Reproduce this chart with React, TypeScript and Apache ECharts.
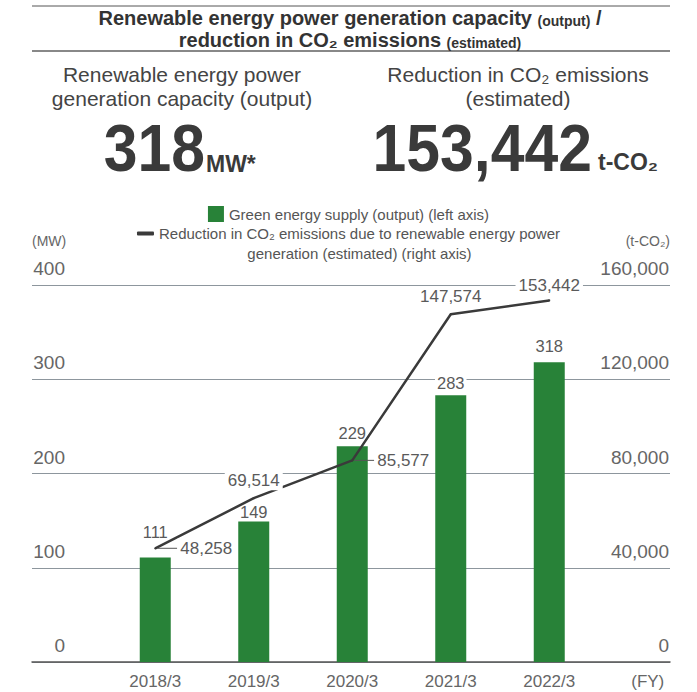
import React, { useEffect, useRef } from 'react';
import * as echarts from 'echarts';

const categories = ['2018/3', '2019/3', '2020/3', '2021/3', '2022/3'];
const axisEndLabel = '(FY)';
const capacityMW = [111, 149, 229, 283, 318];
const co2Reduction = [48258, 69514, 85577, 147574, 153442];
const leftAxisTicks = [0, 100, 200, 300, 400];
const rightAxisTicks = [0, 40000, 80000, 120000, 160000];

const barName = 'Green energy supply (output) (left axis)';
const lineName = 'Reduction in CO₂ emissions due to renewable energy power generation (estimated) (right axis)';
const lineNameLines = ['Reduction in CO₂ emissions due to renewable energy power', 'generation (estimated) (right axis)'];

// label placement (not data)
const lineLabelPos = ['right', 'top', 'right', 'top', 'top'];
const lineLabelDist = [1, 7, 1, 7.5, 4.5];
const barLabelDist = [17, 1.5, 5, 4, 7.5];

export default function App() {
  const ref = useRef<HTMLDivElement>(null);
  useEffect(() => {
    document.body.style.margin = '0';
    const chart = echarts.init(ref.current as HTMLDivElement, null, { renderer: 'svg' });
    const font = '"Liberation Sans", Arial, Helvetica, sans-serif';
    const fmt = (v: number) => v.toLocaleString('en-US');
    const green = '#288238';
    const dark = '#3a3a3a';
    const labelGray = '#5a5a5a';
    const axisGray = '#666666';
    const n = capacityMW.length;

    const lineData = co2Reduction.map((v, i) => ({
      value: v,
      label: {
        position: lineLabelPos[i],
        distance: lineLabelDist[i],
        formatter: lineLabelPos[i] === 'right' ? '{l|}{v|' + fmt(v) + '}' : '{v|' + fmt(v) + '}',
      },
    }));
    const barData = capacityMW.map((v, i) => ({ value: v, label: { distance: barLabelDist[i] } }));

    const lMin = leftAxisTicks[0];
    const lMax = leftAxisTicks[leftAxisTicks.length - 1];
    const lInt = leftAxisTicks[1] - leftAxisTicks[0];
    const rMin = rightAxisTicks[0];
    const rMax = rightAxisTicks[rightAxisTicks.length - 1];
    const rInt = rightAxisTicks[1] - rightAxisTicks[0];

    const option: any = {
      animation: false,
      textStyle: { fontFamily: font },
      legend: [
        {
          data: [{ name: barName, icon: 'rect' }],
          top: 206,
          left: 'center',
          padding: 0,
          itemWidth: 16,
          itemHeight: 16,
          itemGap: 0,
          selectedMode: false,
          textStyle: { fontSize: 15, color: '#555', fontFamily: font },
        },
        {
          data: [{ name: lineName, icon: 'roundRect' }],
          top: 206,
          left: 'center',
          padding: 0,
          itemWidth: 17,
          itemHeight: 4,
          selectedMode: false,
          formatter: () => '{c| }\n' + lineNameLines.map((t) => '{c|' + t + '}').join('\n'),
          textStyle: {
            fontSize: 15,
            color: '#555',
            fontFamily: font,
            rich: { c: { align: 'center', fontSize: 15, lineHeight: 20, color: '#555', fontFamily: font } },
          },
        },
      ],
      grid: [
        { left: 106, top: 285, width: 592.5, bottom: 30 },
        { left: 32, right: 27, top: 285, bottom: 30 },
      ],
      xAxis: [
        {
          gridIndex: 0,
          type: 'category',
          data: [...categories, axisEndLabel],
          axisLine: { show: false },
          axisTick: { show: false },
          splitLine: { show: false },
          axisLabel: { fontSize: 17, color: axisGray, margin: 11, interval: 0, fontFamily: font },
        },
        {
          gridIndex: 1,
          type: 'value',
          min: 0,
          max: 1,
          axisLine: { show: true, onZero: false, lineStyle: { color: '#555', width: 1.5 } },
          axisTick: { show: false },
          axisLabel: { show: false },
          splitLine: { show: false },
        },
      ],
      yAxis: [
        { gridIndex: 0, type: 'value', min: lMin, max: lMax, interval: lInt, show: false },
        { gridIndex: 0, type: 'value', min: rMin, max: rMax, interval: rInt, show: false },
        {
          gridIndex: 1,
          type: 'value',
          position: 'left',
          min: lMin,
          max: lMax,
          interval: lInt,
          name: '(MW)',
          nameLocation: 'end',
          nameGap: 44,
          nameTextStyle: { align: 'left', verticalAlign: 'middle', fontSize: 14, color: axisGray, fontFamily: font },
          axisLine: { show: false },
          axisTick: { show: false },
          axisLabel: {
            inside: true,
            margin: 33,
            align: 'right',
            verticalAlign: 'bottom',
            padding: [0, 0, 7, 0],
            fontSize: 19,
            color: axisGray,
            showMinLabel: true,
            showMaxLabel: true,
            fontFamily: font,
          },
          splitLine: { show: true, lineStyle: { color: '#8d969d', width: 1 } },
        },
        {
          gridIndex: 1,
          type: 'value',
          position: 'right',
          min: rMin,
          max: rMax,
          interval: rInt,
          name: '(t-CO₂)',
          nameLocation: 'end',
          nameGap: 44,
          nameTextStyle: { align: 'right', verticalAlign: 'middle', fontSize: 14, color: axisGray, fontFamily: font },
          axisLine: { show: false },
          axisTick: { show: false },
          axisLabel: {
            inside: true,
            margin: 1,
            align: 'right',
            verticalAlign: 'bottom',
            padding: [0, 0, 7, 0],
            fontSize: 19,
            color: axisGray,
            showMinLabel: true,
            showMaxLabel: true,
            formatter: (v: number) => fmt(v),
            fontFamily: font,
          },
          splitLine: { show: false },
        },
      ],
      series: [
        {
          type: 'bar',
          name: barName,
          xAxisIndex: 0,
          yAxisIndex: 0,
          data: barData,
          barWidth: 31,
          itemStyle: { color: green },
          label: {
            show: true,
            position: 'top',
            fontSize: 16.5,
            color: labelGray,
            backgroundColor: '#fff',
            padding: [0, 2],
            fontFamily: font,
          },
        },
        {
          type: 'line',
          name: lineName,
          xAxisIndex: 0,
          yAxisIndex: 1,
          data: lineData,
          symbol: 'circle',
          symbolSize: 2,
          showSymbol: true,
          itemStyle: { color: dark },
          lineStyle: { color: dark, width: 2.5 },
          z: 5,
          label: {
            show: true,
            fontSize: 17,
            color: labelGray,
            fontFamily: font,
            rich: {
              l: { width: 20, height: 1, backgroundColor: '#555' },
              v: { fontSize: 17, color: labelGray, backgroundColor: '#fff', padding: [1, 3], fontFamily: font },
            },
          },
        },
      ],
      graphic: [
        { type: 'line', shape: { x1: 32, y1: 6, x2: 670, y2: 6 }, style: { stroke: '#555', lineWidth: 1 } },
        { type: 'line', shape: { x1: 32, y1: 51, x2: 670, y2: 51 }, style: { stroke: '#888', lineWidth: 2 } },
        {
          type: 'text',
          x: 350,
          y: 6,
          style: {
            text: '{b|Renewable energy power generation capacity }{s|(output)}{b| /}\n{b|reduction in CO₂ emissions }{s|(estimated)}',
            align: 'center',
            verticalAlign: 'top',
            rich: {
              b: { fontSize: 20, fontWeight: 'bold', fill: '#333', lineHeight: 22, fontFamily: font, verticalAlign: 'bottom' },
              s: { fontSize: 14, fontWeight: 'bold', fill: '#333', lineHeight: 22, fontFamily: font, verticalAlign: 'bottom' },
            },
          },
        },
        {
          type: 'text',
          x: 182,
          y: 62,
          style: {
            text: 'Renewable energy power\ngeneration capacity (output)',
            align: 'center',
            verticalAlign: 'top',
            fontSize: 21,
            lineHeight: 24,
            fill: '#444',
            fontFamily: font,
          },
        },
        {
          type: 'text',
          x: 518,
          y: 62,
          style: {
            text: 'Reduction in CO₂ emissions\n(estimated)',
            align: 'center',
            verticalAlign: 'top',
            fontSize: 21,
            lineHeight: 24,
            fill: '#444',
            fontFamily: font,
          },
        },
        {
          type: 'text',
          x: 205,
          y: 148.5,
          scaleX: 0.92,
          style: {
            text: String(capacityMW[n - 1]),
            align: 'right',
            verticalAlign: 'middle',
            fontSize: 66,
            fontWeight: 'bold',
            fill: '#3a3a3a',
            fontFamily: font,
          },
        },
        {
          type: 'text',
          x: 206,
          y: 164,
          style: { text: 'MW*', align: 'left', verticalAlign: 'middle', fontSize: 23, fontWeight: 'bold', fill: '#3a3a3a', fontFamily: font },
        },
        {
          type: 'text',
          x: 592,
          y: 148.5,
          scaleX: 0.92,
          style: {
            text: fmt(co2Reduction[n - 1]),
            align: 'right',
            verticalAlign: 'middle',
            fontSize: 66,
            fontWeight: 'bold',
            fill: '#3a3a3a',
            fontFamily: font,
          },
        },
        {
          type: 'text',
          x: 598,
          y: 162,
          style: { text: 't-CO₂', align: 'left', verticalAlign: 'middle', fontSize: 23, fontWeight: 'bold', fill: '#3a3a3a', fontFamily: font },
        },
      ],
    };

    chart.setOption(option);
    return () => chart.dispose();
  }, []);

  return <div ref={ref} style={{ width: 697, height: 692 }} />;
}
